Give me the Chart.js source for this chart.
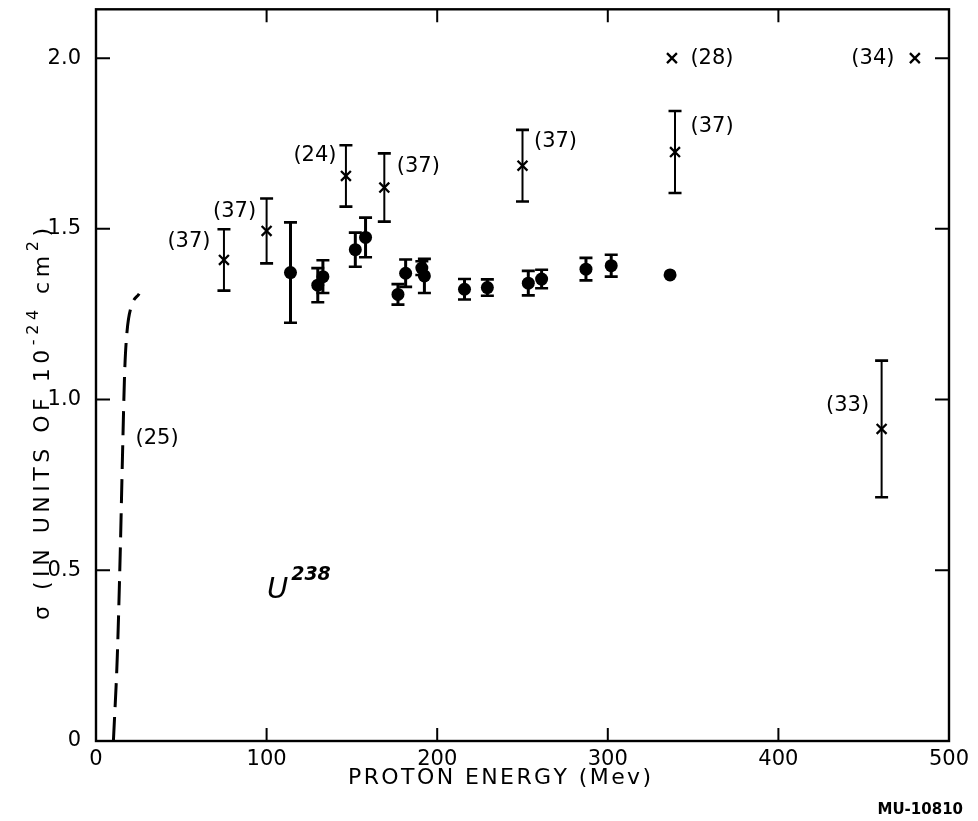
<!DOCTYPE html>
<html><head><meta charset="utf-8">
<script src="https://cdn.jsdelivr.net/npm/chart.js@4.4.0/dist/chart.umd.min.js"></script>
<style>html,body{margin:0;padding:0;background:#fff;}#wrap{width:978px;height:821px;}</style>
</head><body><div id="wrap"><canvas id="c" width="978" height="821"></canvas></div>
<script>
// ---- data ----
const xTickValues = [0, 100, 200, 300, 400, 500];
const yTickValues = [0, 0.5, 1.0, 1.5, 2.0];
const yTickLabels = ["0", "0.5", "1.0", "1.5", "2.0"];

const dotEnergy = [114, 130, 133, 152, 158, 177, 181.5, 191, 192.5, 216, 229.4, 253.4, 261.2, 287.2, 302, 336.5];
const dotSigma  = [1.372, 1.335, 1.360, 1.439, 1.475, 1.308, 1.370, 1.385, 1.362, 1.323, 1.328, 1.341, 1.353, 1.382, 1.392, 1.365];
const dotErr    = [0.147, 0.05, 0.048, 0.05, 0.058, 0.03, 0.04, 0.02, 0.05, 0.03, 0.024, 0.036, 0.027, 0.033, 0.032, 0];

const crossEnergy = [75, 100, 146.5, 169, 250, 339.4, 337.6, 480, 460.5];
const crossSigma  = [1.409, 1.494, 1.655, 1.621, 1.685, 1.725, 2.0, 2.0, 0.914];
const crossErr    = [0.09, 0.095, 0.09, 0.1, 0.105, 0.12, 0, 0, 0.2];
const crossRefs   = ["(37)", "(37)", "(24)", "(37)", "(37)", "(37)", "(28)", "(34)", "(33)"];

const curveEnergy = [10.2, 12.5, 14.2, 15.6, 16.8, 18.2, 20.5, 25.3];
const curveSigma  = [0, 0.25, 0.55, 0.85, 1.08, 1.20, 1.27, 1.31];
const curveRef = "(25)";

// ---- styles / layout (not data) ----
const refOffsets = [[-35,-18],[-32,-19],[-31,-20],[34,-21],[33,-24],[37,-25],[40,0],[-42,0],[-34,-23]];
const FONT = '"DejaVu Sans", "Liberation Sans", sans-serif';

function spaced(ctx, segs, cx, cy, target) {
  let w = 0, n = 0;
  segs.forEach(s => { ctx.font = s.font; s.w = ctx.measureText(s.t).width; w += s.w; n += [...s.t].length; });
  const ls = target ? (target - w) / Math.max(1, n - 1) : 0;
  let x = cx - (w + ls * (n - 1)) / 2;
  ctx.textAlign = 'left';
  ctx.textBaseline = 'alphabetic';
  segs.forEach(s => {
    ctx.font = s.font;
    for (const ch of s.t) { ctx.fillText(ch, x, cy + (s.dy || 0)); x += ctx.measureText(ch).width + ls; }
  });
}

const decor = {
  id: 'decor',
  beforeDatasetsDraw(chart) {
    const {ctx, scales: {x, y}} = chart;
    ctx.save();
    ctx.strokeStyle = '#000';
    const bars = (E, S, Er, lw, cap) => {
      for (let i = 0; i < E.length; i++) {
        if (!Er[i]) continue;
        const px = x.getPixelForValue(E[i]);
        const t = y.getPixelForValue(S[i] + Er[i]);
        const b = y.getPixelForValue(S[i] - Er[i]);
        ctx.lineWidth = lw;
        ctx.beginPath(); ctx.moveTo(px, t); ctx.lineTo(px, b); ctx.stroke();
        ctx.lineWidth = 2.6;
        ctx.beginPath();
        ctx.moveTo(px - cap, t); ctx.lineTo(px + cap, t);
        ctx.moveTo(px - cap, b); ctx.lineTo(px + cap, b);
        ctx.stroke();
      }
    };
    bars(dotEnergy, dotSigma, dotErr, 3, 6.5);
    bars(crossEnergy, crossSigma, crossErr, 2, 6.5);
    ctx.restore();
  },
  afterDraw(chart) {
    const {ctx, chartArea: a, scales: {x, y}} = chart;
    ctx.save();
    ctx.strokeStyle = '#000';
    ctx.fillStyle = '#000';
    // frame
    ctx.lineWidth = 2.4;
    ctx.strokeRect(a.left, a.top, a.right - a.left, a.bottom - a.top);
    // inside ticks
    ctx.lineWidth = 2;
    ctx.beginPath();
    xTickValues.slice(1, -1).forEach(v => {
      const px = x.getPixelForValue(v);
      ctx.moveTo(px, a.bottom); ctx.lineTo(px, a.bottom - 13);
      ctx.moveTo(px, a.top); ctx.lineTo(px, a.top + 13);
    });
    yTickValues.slice(1).forEach(v => {
      const py = y.getPixelForValue(v);
      ctx.moveTo(a.left, py); ctx.lineTo(a.left + 14, py);
      ctx.moveTo(a.right, py); ctx.lineTo(a.right - 14, py);
    });
    ctx.stroke();
    // reference labels
    ctx.font = '21px ' + FONT;
    ctx.textAlign = 'center';
    ctx.textBaseline = 'middle';
    crossRefs.forEach((r, i) => {
      const px = x.getPixelForValue(crossEnergy[i]) + refOffsets[i][0];
      const py = y.getPixelForValue(crossSigma[i]) + refOffsets[i][1];
      ctx.fillText(r, px, py);
    });
    ctx.fillText(curveRef, x.getPixelForValue(35.8), y.getPixelForValue(0.886));
    // U^238
    ctx.textAlign = 'left';
    ctx.textBaseline = 'alphabetic';
    ctx.font = 'italic 29px ' + FONT;
    const ux = x.getPixelForValue(100.2), uy = y.getPixelForValue(0.418);
    ctx.fillText('U', ux, uy);
    const uw = ctx.measureText('U').width;
    ctx.font = 'italic bold 19px ' + FONT;
    ctx.fillText('238', ux + uw + 3, uy - 18);
    // x title
    spaced(ctx, [{t: 'PROTON ENERGY (Mev)', font: '22px ' + FONT}], 499, 784, 302);
    // MU label
    ctx.font = 'bold 15px ' + FONT;
    ctx.textAlign = 'right';
    ctx.fillText('MU-10810', 963, 814);
    // y title (rotated)
    ctx.save();
    ctx.translate(49, 424);
    ctx.rotate(-Math.PI / 2);
    const mf = '22px ' + FONT, sf = '16px ' + FONT;
    spaced(ctx, [
      {t: 'σ (IN UNITS OF 10', font: mf},
      {t: '-24', font: sf, dy: -11},
      {t: ' cm', font: mf},
      {t: '2', font: sf, dy: -11},
      {t: ')', font: mf}
    ], 0, 0, 392);
    ctx.restore();
    ctx.restore();
  }
};

const noPad = s => { s.paddingTop = 0; s.paddingBottom = 0; s.paddingLeft = 0; s.paddingRight = 0; };

new Chart(document.getElementById('c'), {
  type: 'scatter',
  data: {
    datasets: [
      {
        type: 'line',
        label: 'curve',
        data: curveEnergy.map((e, i) => ({x: e, y: curveSigma[i]})),
        borderColor: '#000', borderWidth: 3, borderDash: [24, 10],
        pointRadius: 0, fill: false, cubicInterpolationMode: 'monotone'
      },
      {
        label: 'dots',
        data: dotEnergy.map((e, i) => ({x: e, y: dotSigma[i]})),
        pointStyle: 'circle', pointRadius: 6.5,
        backgroundColor: '#000', borderColor: '#000', borderWidth: 0
      },
      {
        label: 'crosses',
        data: crossEnergy.map((e, i) => ({x: e, y: crossSigma[i]})),
        pointStyle: 'crossRot', pointRadius: 7,
        borderColor: '#000', borderWidth: 2.3
      }
    ]
  },
  options: {
    responsive: false,
    animation: false,
    devicePixelRatio: 1,
    layout: {padding: {top: 8, right: 29, left: 0, bottom: 0}},
    plugins: {legend: {display: false}, tooltip: {enabled: false}},
    scales: {
      x: {
        type: 'linear', min: 0, max: 500,
        afterBuildTicks: s => { s.ticks = xTickValues.map(v => ({value: v})); },
        afterFit: s => { s.height = 80; noPad(s); },
        grid: {display: false, drawTicks: false},
        border: {display: false},
        ticks: {color: '#000', padding: 6, font: {family: FONT, size: 21}, maxRotation: 0, callback: v => String(v)}
      },
      y: {
        type: 'linear', min: 0, max: 2.143,
        afterBuildTicks: s => { s.ticks = yTickValues.map(v => ({value: v})); },
        afterFit: s => { s.width = 96; noPad(s); },
        grid: {display: false, drawTicks: false},
        border: {display: false},
        ticks: {color: '#000', padding: 15, font: {family: FONT, size: 21},
                callback: (v) => yTickLabels[yTickValues.indexOf(v)]}
      }
    }
  },
  plugins: [decor]
});
</script>
</body></html>
